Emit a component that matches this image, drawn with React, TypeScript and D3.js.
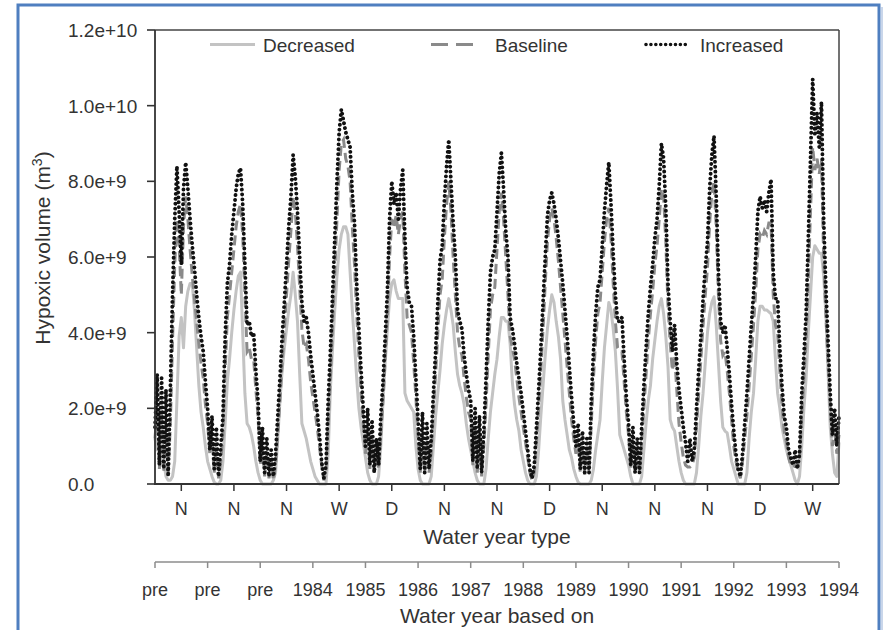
import React from 'react';
import * as d3 from 'd3';

// Water year type label for each simulated year (ticks at year centres)
const waterYearTypes = ['N', 'N', 'N', 'W', 'D', 'N', 'N', 'D', 'N', 'N', 'N', 'D', 'W'];
// Secondary axis labels at year boundaries
const basedOnLabels = ['pre', 'pre', 'pre', '1984', '1985', '1986', '1987', '1988', '1989', '1990', '1991', '1992', '1993', '1994'];
// Y ticks (units of 1e9 m3)
const yTickValues = [0, 2, 4, 6, 8, 10, 12];
const yTickLabels = ['0.0', '2.0e+9', '4.0e+9', '6.0e+9', '8.0e+9', '1.0e+10', '1.2e+10'];

// Hypoxic volume, 1e9 m3, 24 samples per year (13 years) + final point
const increased = [
  1.5, 2.9, 0.5, 2.8, 0.4, 2.5, 0.2, 2.5, 5.0, 7.0, 8.4, 7.2, 5.8, 7.8, 8.5, 7.8, 7.0, 6.3, 5.7, 5.0, 4.4, 3.9, 3.5, 2.7,
  2.0, 0.9, 1.8, 0.4, 1.5, 0.2, 1.0, 1.8, 3.9, 5.3, 5.8, 6.6, 7.2, 7.8, 8.2, 8.35, 7.4, 5.8, 4.2, 4.3, 3.9, 4.0, 3.0, 2.2,
  0.6, 1.5, 0.3, 1.2, 0.2, 0.9, 0.2, 0.8, 1.8, 2.8, 3.9, 4.8, 5.8, 6.8, 7.6, 8.7, 8.1, 7.2, 6.0, 4.8, 4.3, 4.4, 4.0, 3.4,
  2.9, 2.4, 1.9, 1.3, 0.6, 0.15, 0.5, 2.2, 3.5, 5.0, 6.5, 8.0, 9.3, 9.9, 9.6, 9.3, 9.1, 8.9, 7.7, 6.9, 5.3, 4.1, 3.0, 2.0,
  1.0, 2.0, 0.5, 1.7, 0.3, 1.2, 0.5, 1.8, 2.7, 3.9, 5.1, 7.0, 8.0, 7.4, 7.7, 7.0, 7.8, 8.3, 6.5, 5.2, 4.8, 4.7, 3.9, 2.8,
  1.7, 0.4, 1.9, 0.3, 1.6, 0.4, 1.2, 2.4, 3.5, 4.8, 5.9, 6.3, 7.5, 8.4, 9.1, 8.0, 6.9, 6.0, 4.6, 4.3, 4.1, 3.4, 2.9, 2.5,
  2.2, 0.6, 2.0, 0.4, 1.8, 0.3, 1.4, 2.8, 4.3, 5.6, 6.0, 6.2, 7.2, 8.2, 8.75, 7.8, 6.7, 6.0, 4.4, 4.1, 3.7, 3.2, 2.8, 2.4,
  1.9, 1.4, 0.9, 0.4, 0.15, 0.5, 1.5, 2.5, 3.6, 4.8, 6.0, 7.1, 7.5, 7.7, 7.4, 7.0, 6.5, 5.9, 5.3, 4.6, 3.9, 3.1, 2.3, 1.6,
  1.0, 1.6, 0.4, 1.4, 0.3, 1.2, 0.3, 2.2, 3.5, 4.5, 5.2, 5.4, 6.3, 7.2, 7.9, 8.5, 7.4, 6.1, 5.0, 4.3, 4.3, 4.4, 3.3, 2.3,
  1.6, 0.5, 1.5, 0.3, 1.2, 0.3, 1.5, 2.6, 3.6, 4.5, 5.2, 5.8, 6.5, 7.0, 7.9, 9.0, 8.6, 7.3, 5.3, 4.3, 3.5, 4.2, 3.2, 2.5,
  2.0, 1.5, 1.1, 0.6, 1.2, 0.6, 0.9, 2.0, 3.0, 3.9, 4.9, 5.7, 6.4, 7.8, 8.7, 9.2, 7.6, 5.6, 4.3, 4.0, 4.2, 3.6, 2.9, 2.1,
  1.4, 0.8, 0.4, 0.2, 0.8, 1.6, 2.4, 3.3, 4.2, 5.0, 6.0, 7.2, 7.6, 7.3, 7.5, 7.2, 7.7, 8.05, 5.6, 4.9, 4.9, 3.6, 2.6, 1.8,
  1.5, 0.9, 0.7, 0.5, 0.9, 0.4, 0.8, 2.4, 3.4, 4.5, 6.5, 8.6, 10.7, 9.2, 9.8, 8.9, 10.1, 7.0, 5.2, 3.8, 2.4, 1.3, 2.0, 1.0,
  1.8,
];

const baseline = [
  1.2, 2.0, 0.4, 1.9, 0.3, 1.6, 0.2, 1.6, 3.8, 5.8, 7.0, 6.3, 5.0, 6.8, 7.6, 7.0, 6.2, 5.5, 4.9, 4.3, 3.7, 3.2, 2.8, 2.1,
  1.6, 0.8, 1.2, 0.3, 0.9, 0.15, 0.6, 1.3, 3.0, 4.4, 5.0, 5.6, 6.2, 6.8, 7.2, 7.4, 6.6, 5.0, 3.5, 3.6, 3.3, 3.3, 2.5, 1.8,
  0.5, 1.0, 0.2, 0.8, 0.15, 0.6, 0.1, 0.5, 1.3, 2.2, 3.2, 4.1, 5.0, 5.9, 6.7, 7.6, 7.2, 6.3, 5.2, 4.1, 3.6, 3.7, 3.3, 2.7,
  2.3, 1.9, 1.5, 1.0, 0.5, 0.1, 0.3, 1.6, 2.8, 4.2, 5.6, 7.0, 8.3, 9.0, 9.1, 8.6, 8.4, 8.0, 6.8, 5.8, 4.5, 3.4, 2.4, 1.6,
  0.8, 1.4, 0.4, 1.2, 0.3, 0.8, 0.4, 1.3, 2.2, 3.3, 4.4, 6.0, 7.0, 6.8, 7.1, 6.6, 7.0, 7.2, 5.6, 4.4, 4.2, 4.0, 3.2, 2.3,
  1.2, 0.3, 1.3, 0.3, 1.1, 0.3, 0.8, 1.9, 2.9, 4.0, 5.0, 5.4, 6.5, 7.4, 8.0, 7.2, 6.0, 5.0, 4.0, 3.6, 3.4, 2.8, 2.3, 1.9,
  1.7, 0.5, 1.5, 0.3, 1.3, 0.2, 1.0, 2.1, 3.4, 4.6, 5.0, 5.2, 6.2, 7.2, 7.7, 7.0, 6.0, 5.0, 3.9, 3.6, 3.3, 2.8, 2.3, 1.9,
  1.5, 1.1, 0.7, 0.3, 0.1, 0.3, 1.1, 2.0, 3.0, 4.1, 5.3, 6.4, 7.0, 7.3, 7.0, 6.5, 5.9, 5.2, 4.5, 3.8, 3.1, 2.4, 1.7, 1.2,
  0.8, 1.2, 0.3, 1.0, 0.25, 0.9, 0.3, 1.6, 2.8, 3.8, 4.5, 4.8, 5.6, 6.4, 7.0, 7.3, 6.5, 5.3, 4.3, 3.6, 3.5, 3.5, 2.7, 1.9,
  1.3, 0.4, 1.1, 0.3, 0.9, 0.3, 1.1, 2.0, 2.9, 3.8, 4.5, 5.1, 5.8, 6.3, 7.0, 7.8, 7.6, 6.4, 4.7, 3.7, 3.0, 3.4, 2.5, 1.6,
  1.1, 0.7, 0.5, 0.45, 0.45, 0.5, 0.7, 1.5, 2.4, 3.3, 4.2, 5.0, 5.7, 6.9, 7.7, 8.0, 6.8, 5.0, 3.8, 3.4, 3.5, 3.0, 2.4, 1.7,
  1.0, 0.6, 0.3, 0.15, 0.6, 1.2, 1.8, 2.6, 3.4, 4.2, 5.1, 6.2, 6.6, 6.5, 6.7, 6.6, 6.9, 6.9, 5.0, 4.2, 4.0, 3.0, 2.1, 1.4,
  1.1, 0.7, 0.5, 0.45, 0.5, 0.45, 0.7, 1.8, 2.8, 3.8, 5.4, 7.2, 8.9, 8.3, 8.6, 8.2, 8.6, 6.0, 4.5, 3.2, 2.0, 1.0, 1.5, 0.8,
  1.3,
];

const decreased = [
  1.2, 0.9, 1.0, 0.5, 0.6, 0.2, 0.1, 0.1, 0.2, 0.6, 2.2, 3.9, 4.4, 3.6, 4.7, 5.1, 5.3, 5.3, 4.6, 3.6, 2.6, 1.9, 1.5, 1.0,
  0.6, 0.4, 0.2, 0.05, 0, 0, 0.1, 0.6, 1.6, 2.7, 3.3, 4.0, 4.6, 5.1, 5.5, 5.6, 4.0, 2.4, 1.6, 1.5, 1.3, 1.0, 0.6, 0.3,
  0.1, 0, 0, 0, 0, 0, 0.1, 0.3, 1.2, 2.2, 3.0, 3.6, 4.1, 4.6, 5.0, 5.6, 5.0, 4.3, 2.9, 1.6, 1.4, 1.2, 0.9, 0.6,
  0.4, 0.2, 0.1, 0, 0, 0, 0, 0.8, 2.5, 3.6, 4.6, 5.5, 6.2, 6.6, 6.8, 6.8, 6.6, 5.6, 4.6, 3.7, 2.8, 2.0, 1.5, 1.1,
  0.7, 0.3, 0.1, 0, 0, 0, 0.2, 1.0, 2.2, 3.2, 4.1, 4.9, 5.3, 5.4, 5.1, 4.9, 4.9, 4.9, 2.4, 2.2, 2.1, 2.0, 1.9, 1.0,
  0.4, 0.1, 0, 0, 0, 0, 0.2, 1.0, 1.8, 2.4, 3.0, 3.7, 4.2, 4.6, 4.9, 4.6, 4.2, 3.5, 2.9, 2.6, 2.4, 2.1, 1.6, 1.2,
  0.9, 0.6, 0.3, 0.1, 0, 0, 0, 0.4, 1.2, 1.9, 2.4, 2.9, 3.3, 3.9, 4.4, 4.4, 4.3, 4.3, 3.7, 2.7, 2.1, 1.7, 1.4, 0.9,
  0.6, 0.3, 0.1, 0, 0, 0, 0.2, 0.9, 1.8, 2.6, 3.4, 4.1, 4.6, 5.0, 4.8, 4.3, 3.9, 3.3, 2.2, 1.7, 1.3, 0.9, 0.7, 0.4,
  0.2, 0.05, 0, 0, 0, 0, 0, 0.1, 0.4, 0.9, 1.3, 1.7, 2.7, 3.6, 4.2, 4.8, 4.6, 4.1, 3.5, 2.5, 1.3, 1.1, 0.9, 0.7,
  0.5, 0.2, 0, 0, 0, 0, 0.2, 0.9, 1.6, 2.2, 2.6, 3.3, 3.8, 4.3, 4.7, 4.9, 4.5, 3.9, 3.1, 1.7, 1.5, 1.4, 1.0, 0.6,
  0.3, 0.1, 0, 0, 0, 0, 0, 0.3, 1.0, 1.8, 2.4, 3.2, 4.0, 4.5, 4.8, 4.95, 4.2, 3.2, 2.2, 1.5, 1.4, 1.35, 1.0, 0.6,
  0.4, 0.2, 0, 0, 0, 0, 0.3, 1.2, 1.9, 2.4, 3.3, 4.3, 4.7, 4.7, 4.6, 4.6, 4.55, 4.5, 4.3, 3.3, 2.4, 2.0, 1.5, 1.2,
  0.9, 0.7, 0.5, 0.3, 0.1, 0, 0.2, 1.0, 2.0, 2.8, 4.0, 5.0, 6.0, 6.3, 6.2, 6.1, 6.1, 5.5, 4.5, 3.0, 1.5, 0.8, 0.3, 0.2,
  1.1,
];

const SAMPLES_PER_YEAR = 24;
const FONT = '"Liberation Sans", Arial, Helvetica, sans-serif';
const TEXT = '#333333';

export default function App() {
  const left = 155;
  const right = 839;
  const top = 30;
  const bottom = 484;
  const nYears = waterYearTypes.length;

  const x = d3.scaleLinear().domain([0, nYears]).range([left, right]);
  const y = d3.scaleLinear().domain([0, 12]).range([bottom, top]);

  const line = d3
    .line<number>()
    .x((_, i) => x(i / SAMPLES_PER_YEAR))
    .y((d) => y(d));

  const secondAxisY = 562;

  return (
    <svg
      width={884}
      height={630}
      style={{ position: 'absolute', left: 0, top: 0, background: '#ffffff' }}
      fontFamily={FONT}
    >
      {/* outer blue frame */}
      <line x1={882} y1={7} x2={882} y2={630} stroke="#c9d6ea" strokeWidth={2} />
      <rect x={18} y={5} width={861} height={640} fill="#ffffff" stroke="#4f7fc0" strokeWidth={3} />

      {/* series */}
      <path d={line(decreased) || ''} fill="none" stroke="#c3c3c3" strokeWidth={3} strokeLinejoin="round" />
      <path d={line(baseline) || ''} fill="none" stroke="#8a8a8a" strokeWidth={3} strokeDasharray="10,5" />
      <path
        d={line(increased) || ''}
        fill="none"
        stroke="#111111"
        strokeWidth={3.9}
        strokeLinecap="round"
        strokeDasharray="0.01,4.9"
      />

      {/* plot frame */}
      <line x1={left} y1={top} x2={right} y2={top} stroke="#444" strokeWidth={1.5} />
      <line x1={right} y1={top} x2={right} y2={bottom} stroke="#444" strokeWidth={1.5} />
      <line x1={left} y1={top} x2={left} y2={bottom} stroke="#333" strokeWidth={1.8} />
      <line x1={left - 1} y1={bottom} x2={right} y2={bottom} stroke="#333" strokeWidth={1.8} />

      {/* y axis ticks + labels */}
      {yTickValues.map((v, i) => (
        <g key={'yt' + i}>
          <line x1={left - 8} x2={left} y1={y(v)} y2={y(v)} stroke="#333" strokeWidth={1.6} />
          <text x={68} y={y(v)} dy="0.36em" fontSize={19} fill={TEXT}>
            {yTickLabels[i]}
          </text>
        </g>
      ))}

      {/* y title */}
      <text
        transform={`translate(50, 248) rotate(-90)`}
        textAnchor="middle"
        fontSize={21}
        fill={TEXT}
      >
        Hypoxic volume (m<tspan dy={-8} fontSize={14}>3</tspan>
        <tspan dy={8}>)</tspan>
      </text>

      {/* water year type axis */}
      {waterYearTypes.map((t, i) => (
        <g key={'wt' + i}>
          <line
            x1={x(i + 0.5)}
            x2={x(i + 0.5)}
            y1={bottom}
            y2={bottom + 7}
            stroke="#333"
            strokeWidth={1.5}
          />
          <text x={x(i + 0.5)} y={515} textAnchor="middle" fontSize={18} fill={TEXT}>
            {t}
          </text>
        </g>
      ))}
      <text x={(left + right) / 2} y={544} textAnchor="middle" fontSize={21} fill={TEXT}>
        Water year type
      </text>

      {/* water year based on axis */}
      <line x1={left} x2={right} y1={secondAxisY} y2={secondAxisY} stroke="#8c8c8c" strokeWidth={1.5} />
      {basedOnLabels.map((t, i) => (
        <g key={'bo' + i}>
          <line
            x1={x(i)}
            x2={x(i)}
            y1={secondAxisY}
            y2={secondAxisY + 6}
            stroke="#8c8c8c"
            strokeWidth={1.5}
          />
          <text x={x(i)} y={596} textAnchor="middle" fontSize={18} fill={TEXT}>
            {t}
          </text>
        </g>
      ))}
      <text x={(left + right) / 2} y={623} textAnchor="middle" fontSize={21} fill={TEXT}>
        Water year based on
      </text>

      {/* legend */}
      <line x1={210} x2={255} y1={44.5} y2={44.5} stroke="#c3c3c3" strokeWidth={3} />
      <text x={263} y={52} fontSize={19} fill={TEXT}>
        Decreased
      </text>
      <line x1={431} x2={481} y1={44.5} y2={44.5} stroke="#8a8a8a" strokeWidth={3} strokeDasharray="17,8" />
      <text x={495} y={52} fontSize={19} fill={TEXT}>
        Baseline
      </text>
      <line
        x1={646}
        x2={690}
        y1={44.5}
        y2={44.5}
        stroke="#111"
        strokeWidth={3.6}
        strokeLinecap="round"
        strokeDasharray="0.01,4.9"
      />
      <text x={700} y={52} fontSize={19} fill={TEXT}>
        Increased
      </text>
    </svg>
  );
}
